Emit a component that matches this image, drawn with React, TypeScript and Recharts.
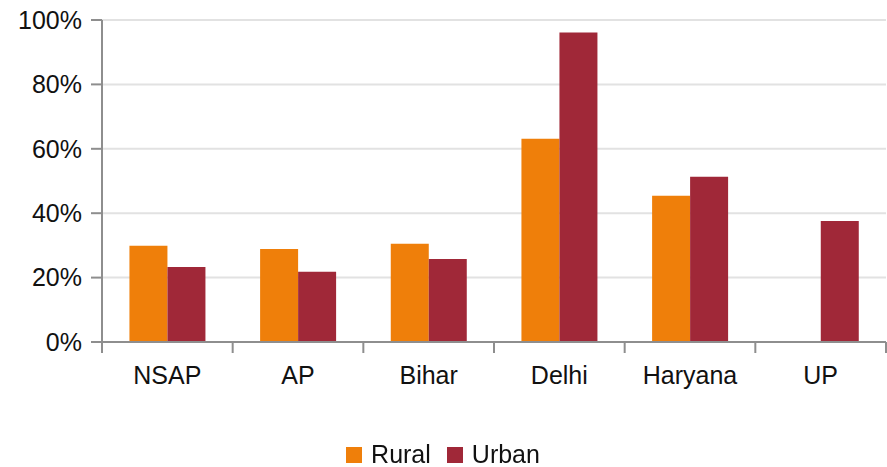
import React from "react";
import { BarChart, Bar, XAxis, YAxis, CartesianGrid, Legend } from "recharts";

// Share of beneficiaries by state, rural vs urban (percent)
const regions = ["NSAP", "AP", "Bihar", "Delhi", "Haryana", "UP"];
const rural: (number | null)[] = [29.9, 28.9, 30.5, 63.1, 45.4, null];
const urban: number[] = [23.3, 21.8, 25.8, 96.1, 51.3, 37.6];
const yTicks = [0, 20, 40, 60, 80, 100];

const RURAL_COLOR = "#EF7F0A";
const URBAN_COLOR = "#A02838";
const AXIS_COLOR = "#8E8E8E";
const GRID_COLOR = "#E2E2E2";
const FONT = "'Liberation Sans', Arial, sans-serif";
const FONT_SIZE = 25;

const data = regions.map((name, i) => ({ name, Rural: rural[i], Urban: urban[i] }));

// Category label plus tick marks on the band boundaries
const CategoryTick = (props: any) => {
  const { x, y, payload, index, width } = props;
  const band = width / regions.length;
  const half = band / 2;
  const top = y - 13;
  return (
    <g>
      <line x1={x - half} x2={x - half} y1={top - 11} y2={top} stroke={AXIS_COLOR} strokeWidth={2} />
      {index === regions.length - 1 && (
        <line x1={x + half} x2={x + half} y1={top - 11} y2={top} stroke={AXIS_COLOR} strokeWidth={2} />
      )}
      <text x={x} y={y} dy="0.71em" textAnchor="middle" fill="#111" fontSize={FONT_SIZE} fontFamily={FONT}>
        {payload.value}
      </text>
    </g>
  );
};

const LegendContent = () => (
  <div
    style={{
      display: "flex",
      justifyContent: "center",
      alignItems: "center",
      height: 35,
      paddingTop: 10,
      boxSizing: "border-box",
      fontFamily: FONT,
      fontSize: FONT_SIZE,
      color: "#111",
    }}
  >
    {[
      ["Rural", RURAL_COLOR],
      ["Urban", URBAN_COLOR],
    ].map(([label, color]) => (
      <div key={label} style={{ display: "flex", alignItems: "center", margin: "0 8px" }}>
        <span style={{ display: "inline-block", width: 16, height: 16, background: color, marginRight: 9 }} />
        <span>{label}</span>
      </div>
    ))}
  </div>
);

export default function App() {
  return (
    <div style={{ position: "fixed", left: 0, top: 0, background: "#fff" }}>
      <BarChart
        width={887}
        height={467}
        data={data}
        margin={{ top: 20, right: 1, left: 0, bottom: 0 }}
        barCategoryGap="21%"
        barGap={0}
      >
        <CartesianGrid vertical={false} stroke={GRID_COLOR} strokeWidth={2} />
        <XAxis
          dataKey="name"
          height={90}
          axisLine={{ stroke: AXIS_COLOR, strokeWidth: 2 }}
          tickLine={false}
          tickSize={11}
          tickMargin={13}
          interval={0}
          tick={<CategoryTick />}
        />
        <YAxis
          width={102}
          domain={[0, 100]}
          ticks={yTicks}
          tickFormatter={(v: number) => `${v}%`}
          axisLine={{ stroke: AXIS_COLOR, strokeWidth: 2 }}
          tickLine={{ stroke: AXIS_COLOR, strokeWidth: 2 }}
          tickSize={11}
          tickMargin={9}
          tick={{ fill: "#111", fontSize: FONT_SIZE, fontFamily: FONT }}
        />
        <Legend verticalAlign="bottom" content={<LegendContent />} />
        <Bar dataKey="Rural" fill={RURAL_COLOR} isAnimationActive={false} />
        <Bar dataKey="Urban" fill={URBAN_COLOR} isAnimationActive={false} />
      </BarChart>
    </div>
  );
}
